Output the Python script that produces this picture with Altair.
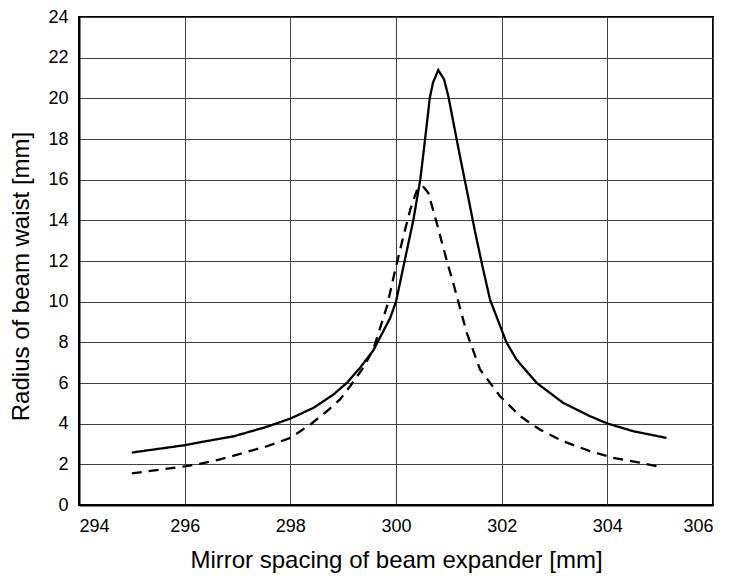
import altair as alt
import pandas as pd

# Solid curve
solid_x = [295.0, 296.0, 296.3, 296.93, 297.56, 298.0, 298.44, 298.82, 299.07, 299.32, 299.57,
           299.89, 300.0, 300.17, 300.33, 300.46, 300.55, 300.64, 300.70, 300.80,
           300.91, 300.99, 301.10, 301.21, 301.35, 301.50, 301.65, 301.78, 302.09, 302.28,
           302.66, 303.16, 303.67, 304.0, 304.49, 305.12]
solid_y = [2.58, 2.94, 3.09, 3.38, 3.85, 4.25, 4.78, 5.44, 6.01, 6.75, 7.6,
           9.2, 10.0, 12.08, 14.04, 16.01, 17.98, 20.03, 20.77, 21.39,
           20.93, 20.11, 18.63, 17.16, 15.36, 13.39, 11.58, 10.1, 8.0, 7.16,
           6.01, 5.03, 4.37, 4.01, 3.63, 3.30]

# Dashed curve
dashed_x = [295.0, 296.0, 296.3, 296.67, 297.12, 297.56, 298.0, 298.38, 298.69, 298.94, 299.13,
            299.38, 299.57, 299.83, 299.98, 300.14, 300.27, 300.39, 300.50, 300.61, 300.77,
            300.87, 300.99, 301.10, 301.21, 301.34, 301.59, 301.97, 302.35, 302.72, 303.16,
            303.67, 304.11, 304.61, 304.93]
dashed_y = [1.55, 1.90, 2.03, 2.24, 2.57, 2.89, 3.30, 3.96, 4.61, 5.19, 5.84,
            6.75, 7.65, 9.78, 11.5, 13.22, 14.53, 15.44, 15.70, 15.36, 13.88,
            12.90, 11.75, 10.76, 9.7, 8.47, 6.67, 5.35, 4.37, 3.71, 3.14,
            2.65, 2.32, 2.08, 1.91]

x_ticks = [294, 296, 298, 300, 302, 304, 306]
y_ticks = [0, 2, 4, 6, 8, 10, 12, 14, 16, 18, 20, 22, 24]

df = pd.concat([
    pd.DataFrame({"x": solid_x, "y": solid_y, "series": "solid", "order": range(len(solid_x))}),
    pd.DataFrame({"x": dashed_x, "y": dashed_y, "series": "dashed", "order": range(len(dashed_x))}),
])

FONT = "Liberation Sans"

chart = alt.Chart(df).mark_line(color="black", strokeWidth=2.3).encode(
    x=alt.X("x:Q",
            scale=alt.Scale(domain=[294, 306], nice=False, zero=False),
            axis=alt.Axis(values=x_ticks, title="Mirror spacing of beam expander [mm]",
                          ticks=False, tickSize=0, labelPadding=12,
                          titleBaseline="alphabetic", titleY=62, titleFontSize=24)),
    y=alt.Y("y:Q",
            scale=alt.Scale(domain=[0, 24], nice=False),
            axis=alt.Axis(values=y_ticks, title="Radius of beam waist [mm]",
                          ticks=False, tickSize=0, labelPadding=11,
                          titleBaseline="alphabetic", titleX=-51, titleY=259,
                          titleAngle=270, titleAlign="center", titleFontSize=24)),
    strokeDash=alt.StrokeDash("series:N",
                              scale=alt.Scale(domain=["solid", "dashed"], range=[[1, 0], [10, 7]]),
                              legend=None),
    detail="series:N",
    order="order:Q",
).properties(
    width=634, height=488,
    padding={"left": 79, "top": 17, "right": 18, "bottom": 71},
    autosize=alt.AutoSizeParams(type="none"),
    background="white",
).configure_axis(
    labelFont=FONT, titleFont=FONT, labelFontSize=18,
    labelColor="black", titleColor="black", titleFontWeight="normal",
    grid=True, gridColor="#404040", gridWidth=1, gridOpacity=1,
    domain=True, domainColor="black", domainWidth=2,
).configure_view(stroke="black", strokeWidth=2)

chart.save("out.html", embed_options={"renderer": "svg", "actions": False})
